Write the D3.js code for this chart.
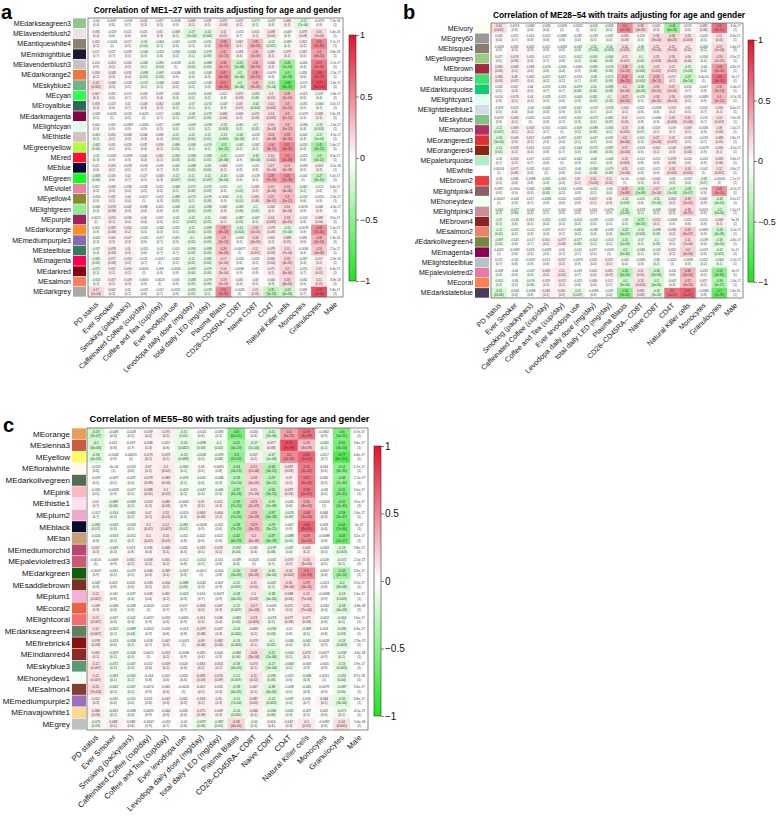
<!DOCTYPE html>
<html>
<head>
<meta charset="utf-8">
<script src="https://cdn.jsdelivr.net/npm/d3@7"></script>
<style>
  body { margin: 0; background: #fff; }
  text { font-family: "Liberation Sans", Arial, Helvetica, sans-serif; }
</style>
</head>
<body>
<svg id="fig" width="778" height="816"></svg>
<script>
// traits (columns), shared by the three panels
var traits = ["PD status", "Ever Smoker", "Smoking (packyears)", "Caffeinated Coffee (cup/day)",
  "Coffee and Tea (cup/day)", "Ever levodopa use", "Levodopa daily dose (mg/day)",
  "total daily LED (mg/day)", "Plasma Blasts", "CD28\u2013CD45RA\u2013 CD8T", "Naive CD8T", "CD4T",
  "Natural Killer cells", "Monocytes", "Granulocytes", "Male"];
var nSamples = 508;
var barTicks = [-1, -0.5, 0, 0.5, 1];

// ---- panel a : ME1-27
var modulesA = ["MEdarkseagreen3", "MElavenderblush2", "MEantiquewhite4", "MEmidnightblue", "MElavenderblush3",
  "MEdarkorange2", "MEskyblue2", "MEcyan", "MEroyalblue", "MEdarkmagenta", "MElightcyan", "MEthistle",
  "MEgreenyellow", "MEred", "MEblue", "MEgreen", "MEviolet", "MEyellow4", "MElightgreen", "MEpurple",
  "MEdarkorange", "MEmediumpurple3", "MEsteelblue", "MEmagenta", "MEdarkred", "MEsalmon", "MEdarkgrey"];
var swatchA = ["#8fc78f", "#eee0e3", "#8b8372", "#1a1a32", "#cdc1c4", "#ee7640", "#72b38c", "#30ff50",
  "#2f6a58", "#8b0042", "#e0ffe8", "#d8bfc2", "#adff40", "#ff1030", "#0a0a3c", "#12ff22", "#ee82a4",
  "#8b8b32", "#90ee90", "#a02062", "#ff8c24", "#8968b4", "#3a7a5c", "#ff0052", "#8b0012", "#fa8062", "#a9a9a9"];
var corA = [
  [-0.04, 0.0097, -0.018, 0.042, 0.027, -0.0049, 0.069, 0.029, 0.075, 0.052, -0.072, -0.037, 0.066, -0.15, -0.0073, 7.2e-18],
  [0.036, -0.023, 0.021, 0.025, 0.05, -0.068, -0.17, -0.14, 0.11, -0.015, 0.054, 0.093, -0.049, 0.079, 0.15, 5.4e-18],
  [0.052, -0.0024, 0.027, -0.09, -0.064, -0.041, -0.029, -0.051, 0.39, 0.067, 0.31, -0.12, -0.069, 0.052, 0.52, 2.7e-17],
  [0.017, 0.017, 0.033, -0.046, -0.024, -0.056, -0.064, -0.079, 0.32, 0.038, 0.26, 0.067, 0.073, 0.032, 0.4, 4.8e-18],
  [0.014, 0.053, 0.042, -0.065, -0.091, -0.0018, -0.11, -0.088, 0.36, -0.25, 0.31, 0.066, -0.45, -0.034, 0.57, -2.1e-17],
  [0.056, 0.048, 0.035, -0.098, -0.097, -0.0046, -0.05, -0.048, 0.47, -0.2, 0.36, 0.0079, -0.5, 0.026, 0.69, -1.3e-17],
  [0.14, 0.048, 0.028, -0.072, -0.068, 0.042, -0.062, -0.043, 0.51, -0.2, 0.26, -0.15, -0.68, -0.013, 0.77, -1.6e-17],
  [0.067, 0.025, 0.015, 0.028, 0.037, -0.041, -0.053, -0.062, 0.012, 0.075, -0.082, 0.1, 0.28, -0.025, -0.037, -1.8e-17],
  [0.058, 0.023, 0.02, 0.043, 0.062, -0.058, -0.07, -0.074, -0.047, 0.08, -0.14, 0.14, 0.3, -0.031, -0.064, 4.2e-17],
  [-0.029, 0.0026, 0.029, 0.0023, 0.017, -0.064, -0.08, -0.079, 0.084, 0.046, 0.076, 0.14, 0.3, -0.0075, 0.068, 5.9e-18],
  [0.004, 0.005, -0.0083, -0.0065, 0.027, -0.039, -0.049, -0.058, -0.13, -0.061, -0.1, 0.16, 0.3, -0.036, -0.13, -1.6e-17],
  [-0.061, 0.055, 0.048, 0.046, 0.039, -0.11, -0.11, -0.11, -0.13, -0.16, -0.028, 0.24, 0.35, -0.042, -0.17, -3.5e-17],
  [-0.082, 0.031, 0.028, 0.037, 0.059, -0.086, -0.068, -0.074, -0.3, -0.062, -0.062, 0.34, 0.51, -0.053, -0.42, 5.4e-17],
  [-0.05, 0.0062, 0.0099, 0.041, 0.065, -0.094, -0.086, -0.086, -0.21, -0.0057, -0.16, 0.14, 0.5, -0.013, -0.3, 6.5e-17],
  [0.021, 0.053, 0.028, 0.018, 0.018, -0.045, -0.088, -0.09, 0.069, 0.011, -0.011, 0.17, 0.24, -0.033, 0.053, -5.5e-18],
  [-0.083, 0.026, 0.02, 0.027, 0.043, -0.12, -0.11, -0.12, -0.16, -0.026, -0.029, 0.38, 0.45, -0.002, -0.27, 6.2e-17],
  [0.021, 0.049, 0.036, 0.028, 0.022, -0.068, -0.075, -0.075, -0.025, -0.1, 0.046, 0.19, 0.24, -0.061, -0.012, 6.6e-17],
  [-0.026, 0.032, 0.04, 0.0017, 0.013, -0.088, -0.072, -0.079, -0.0084, -0.11, 0.085, 0.22, 0.3, -0.024, -0.0051, -2.3e-17],
  [-0.046, 0.078, 0.042, 0.038, 0.025, -0.048, -0.11, -0.098, 0.046, -0.082, -0.1, 0.062, 0.16, 0.0074, 0.044, -4.3e-17],
  [0.0022, 0.074, 0.036, 0.04, 0.022, -0.06, -0.12, -0.11, 0.065, -0.087, -0.067, 0.14, 0.18, -0.014, 0.089, 3.5e-17],
  [0.004, 0.083, 0.054, -0.031, -0.042, -0.031, -0.11, -0.099, 0.37, -0.14, 0.19, 0.078, -0.15, -0.0079, 0.48, 5.1e-17],
  [-0.042, 0.045, 0.047, -0.025, -0.017, -0.051, -0.1, -0.098, 0.3, -0.028, 0.18, 0.052, 0.088, 0.026, 0.33, 1.3e-16],
  [-0.037, 0.078, 0.05, -0.025, -0.02, -0.015, -0.095, -0.098, 0.26, -0.00077, 0.12, 0.079, 0.15, -0.0036, 0.24, 2.5e-17],
  [-0.085, 0.077, 0.056, 0.015, -0.0017, -0.031, -0.11, -0.092, 0.17, -0.024, 0.028, 0.091, 0.18, -0.037, 0.057, -5.9e-18],
  [-0.071, 0.052, 0.056, 0.0026, -0.009, -0.0045, -0.092, -0.079, 0.16, 0.0066, 0.011, 0.071, 0.2, -0.015, 0.11, 6.3e-17],
  [-0.054, 0.057, 0.049, 0.0063, 0.0023, 0.003, -0.088, -0.079, 0.19, 0.035, 0.03, 0.044, 0.18, -0.032, 0.11, -8.8e-18],
  [0.17, 0.042, 0.02, -0.022, -0.017, 0.0052, -0.081, -0.074, 0.51, -0.0026, 0.11, -0.31, -0.24, 0.018, 0.74, 5.8e-17]
];

// ---- panel b : ME28-54
var modulesB = ["MEivory", "MEgrey60", "MEbisque4", "MEyellowgreen", "MEbrown", "MEturquoise", "MEdarkturquoise",
  "MElightcyan1", "MElightsteelblue1", "MEskyblue", "MEmaroon", "MEorangered3", "MEorangered4", "MEpaleturquoise",
  "MEwhite", "MEbrown2", "MElightpink4", "MEhoneydew", "MElightpink3", "MEbrown4", "MEsalmon2",
  "MEdarkolivegreen4", "MEmagenta4", "MElightsteelblue", "MEpalevioletred2", "MEcoral", "MEdarkslateblue"];
var swatchB = ["#fffff0", "#999999", "#8b7d6b", "#9acd82", "#a52a40", "#40e070", "#10ce70", "#e0fff0", "#d0dde2",
  "#82c484", "#b03062", "#dd3030", "#8b2512", "#aeeec2", "#ffffff", "#ee3b3b", "#8b5f66", "#f0fff0", "#cd8c96",
  "#8b2323", "#ee8264", "#6e8b3d", "#8b0052", "#b0c4ca", "#ee79a0", "#ff7f52", "#483d5c"];
var corB = [
  [0.14, 0.0074, 0.0092, -0.036, -0.0018, -0.0022, -0.056, -0.063, 0.5, 0.18, 0.042, -0.46, 0.025, 0.082, 0.6, -3.4e-17],
  [0.035, 0.015, 0.014, -0.025, -0.0085, -0.035, -0.033, -0.037, 0.084, -0.029, 0.16, 0.18, 0.13, -0.031, 0.11, 4.3e-17],
  [-0.0033, 0.033, 0.042, 0.012, -0.0093, -0.043, -0.15, -0.14, 0.14, -0.08, 0.15, 0.15, 0.1, -0.062, 0.17, 2.4e-17],
  [0.027, 0.076, 0.035, -0.017, -0.011, -0.052, -0.091, -0.094, 0.12, -0.1, 0.13, 0.16, 0.09, -0.034, 0.19, 3.1e-17],
  [0.085, 0.068, 0.038, -0.026, -0.034, -0.0061, -0.085, -0.076, 0.28, -0.14, 0.14, 0.12, -0.15, -0.04, 0.43, 4.3e-17],
  [0.086, 0.08, 0.041, -0.057, -0.057, -0.019, -0.08, -0.075, 0.42, -0.14, 0.29, 0.057, -0.27, 3.4e-05, 0.61, -3e-17],
  [0.032, 0.047, 0.04, -0.019, -0.016, -0.079, -0.11, -0.098, 0.2, -0.18, 0.19, 0.17, 0.016, -0.007, 0.31, -5.4e-17],
  [0.014, 0.073, 0.04, -0.028, -0.021, -0.044, -0.081, -0.1, 0.27, -0.029, 0.18, 0.16, 0.059, 0.0083, 0.3, -9.7e-18],
  [-0.029, 0.025, -0.04, -0.046, -0.008, -0.047, -0.019, -0.058, 0.064, 0.021, -0.0099, 0.053, 0.03, 0.016, 0.066, 6.4e-17],
  [0.0076, 0.064, 0.0025, -0.011, -0.019, -0.051, -0.073, -0.081, 0.11, 0.013, -0.0066, 0.13, 0.15, -0.015, 0.12, 7.6e-18],
  [-0.12, 0.069, 0.058, 0.016, -0.0025, -0.059, -0.088, -0.063, 0.13, -0.08, 0.029, 0.019, 0.069, 0.0036, 0.09, 1.5e-17],
  [-0.16, 0.049, 0.057, -0.0083, -0.037, -0.067, -0.047, -0.035, 0.2, -0.051, 0.17, 0.12, 0.033, -0.018, 0.088, 1.8e-17],
  [-0.11, 0.058, 0.041, -0.014, -0.02, -0.044, -0.075, -0.087, 0.17, -0.024, 0.063, 0.048, 0.091, -0.0079, 0.066, -4.5e-17],
  [-0.02, 0.054, 0.017, -0.021, -0.002, -0.042, -0.06, -0.046, 0.13, -0.012, 0.013, 0.078, 0.026, -0.003, 0.083, 3.3e-17],
  [0.00014, 0.077, 0.032, 0.002, -0.011, -0.04, -0.094, -0.079, 0.15, -0.011, 0.021, 0.14, 0.14, -0.002, 0.12, 3.4e-17],
  [-0.03, 0.036, -0.0098, -0.035, -0.035, 0.07, 0.15, 0.11, 5e-04, -0.042, 0.046, -0.05, -0.037, -0.08, -0.00065, 1.7e-17],
  [0.0097, -0.0054, 0.044, -0.088, -0.054, -0.0095, -0.052, -0.04, 0.25, -0.25, 0.17, -0.17, -0.23, 0.004, 0.45, -4.7e-17],
  [-0.00047, -0.042, 0.017, -0.0036, 0.024, 0.025, 0.057, 0.05, -0.13, -0.025, -0.15, 0.063, 0.19, 0.042, -0.18, 3.1e-17],
  [-0.062, -0.077, -0.041, -0.017, 0.006, 0.008, 0.016, 0.0076, -0.19, -0.073, -0.069, 0.049, 0.18, 0.0074, -0.2, 1.2e-17],
  [-0.07, -0.026, 0.031, -0.055, -0.032, -0.054, -0.029, -0.029, -0.03, -0.27, 0.074, -0.0069, 0.025, 0.014, 0.068, 3e-18],
  [-0.11, -0.052, -0.012, -0.037, 0.017, -0.063, -0.038, -0.039, -0.22, -0.14, -0.098, 0.058, 0.22, 0.0083, -0.24, -5.2e-17],
  [-0.087, -0.025, -0.017, 0.055, 0.077, -0.077, -0.052, -0.053, -0.21, -0.07, -0.1, 0.027, 0.15, -0.039, -0.18, -4.8e-17],
  [0.0023, -0.0092, 0.029, -0.0033, 0.02, -0.015, 0.027, 0.0018, -0.2, -0.066, -0.042, 0.052, 0.2, -0.023, -0.12, 2e-17],
  [0.015, -0.011, -0.0097, 0.013, 0.057, -0.0073, 0.035, 0.072, -0.041, -0.0091, -0.06, 0.0022, -0.0098, -0.052, -0.064, -5.2e-17],
  [-0.038, -0.04, -0.047, 0.068, 0.11, -0.019, 0.041, 0.081, -0.35, 0.11, -0.26, -0.011, 0.33, -0.032, -0.52, -3e-17],
  [-0.052, -0.03, -0.076, 0.029, 0.072, -0.022, 0.036, 0.017, -0.2, 0.13, -0.2, -0.047, 0.27, 0.027, -0.36, -1.4e-17],
  [-0.21, -0.043, -0.0098, 0.068, 0.061, -0.12, -0.0099, -0.037, -0.54, 0.095, -0.16, 0.6, 0.67, -0.0086, -0.7, 1.8e-16]
];

// ---- panel c : ME55-80
var modulesC = ["MEorange", "MEsienna3", "MEyellow", "MEfloralwhite", "MEdarkolivegreen", "MEpink", "MEthistle1",
  "MEplum2", "MEblack", "MEtan", "MEmediumorchid", "MEpalevioletred3", "MEdarkgreen", "MEsaddlebrown", "MEplum1",
  "MEcoral2", "MElightcoral", "MEdarkseagreen4", "MEfirebrick4", "MEindianred4", "MEskyblue3", "MEhoneydew1",
  "MEsalmon4", "MEmediumpurple2", "MEnavajowhite1", "MEgrey"];
var swatchC = ["#e8a052", "#d05a40", "#ffff62", "#fffaf0", "#556b52", "#ffb8c2", "#ffe0f0", "#eeaacc", "#0a0a2a",
  "#c8a072", "#b84872", "#cd5872", "#106012", "#7b3022", "#f4b0d8", "#ee6042", "#f07072", "#608062", "#8b1012",
  "#90282a", "#5a9a72", "#f0fff0", "#804032", "#9a70c2", "#ffd892", "#c0c0c0"];
var corC = [
  [-0.23, -0.048, -0.028, 0.059, 0.071, -0.11, -0.024, -0.033, -0.6, 0.024, -0.21, 0.4, 0.59, 0.0062, -0.6, 4.7e-17],
  [-0.2, 0.012, 0.019, 0.048, 0.021, -0.14, -0.098, -0.1, -0.42, -0.17, 0.077, 0.75, 0.26, -0.065, -0.61, 3.4e-17],
  [-0.18, -0.0042, 0.00055, 0.073, 0.073, -0.13, -0.058, -0.078, -0.5, 0.057, -0.17, 0.5, 0.65, -0.017, -0.77, 4.4e-17],
  [-0.023, -4e-04, -0.023, 0.07, 0.1, -0.066, 0.03, 0.0095, -0.34, 0.21, -0.34, 0.097, 0.55, 0.024, -0.51, 5.7e-17],
  [-0.029, -0.029, -0.037, 0.079, 0.083, -0.059, -0.041, -0.048, -0.28, 0.18, -0.29, 0.07, 0.57, 0.032, -0.48, -2.1e-17],
  [-0.031, -0.0059, -0.027, 0.088, 0.1, -0.059, -0.047, -0.046, -0.37, 0.15, -0.34, 0.097, 0.58, -0.03, -0.55, 5.1e-17],
  [0.02, -0.089, -0.069, 0.053, 0.085, -0.0061, 0.07, 0.051, -0.39, 0.23, -0.25, -0.026, 0.35, -0.0024, -0.55, 3.5e-17],
  [-0.017, -0.054, -0.061, 0.07, 0.11, -0.024, 0.084, 0.064, -0.39, 0.26, -0.37, -0.076, 0.48, 0.044, -0.58, 5.4e-17],
  [-0.081, -0.043, -0.033, 0.1, 0.12, -0.081, -0.0028, -0.022, -0.38, 0.29, -0.29, -0.007, 0.66, 0.023, -0.64, 2e-17],
  [-0.024, -0.053, -0.052, 0.1, 0.11, -0.011, 0.022, 0.022, -0.42, 0.2, -0.37, -0.088, 0.49, -0.0088, -0.63, 3.2e-17],
  [0.047, -0.049, 0.013, 0.036, 0.068, 0.031, 0.033, 0.059, -0.092, 0.035, -0.079, -0.037, 0.063, -0.033, -0.13, 1.8e-17],
  [0.0013, 0.0069, 0.061, 0.058, 0.055, -0.012, -0.052, -0.011, -0.039, 0.0023, -0.032, 0.073, 0.16, -0.028, -0.072, -2.5e-17],
  [-0.0047, -0.031, -0.029, 0.046, 0.069, -0.047, -0.0012, -0.014, -0.26, 0.18, -0.16, 0.14, 0.5, -0.037, -0.43, 3.3e-17],
  [-0.047, 0.013, 0.026, 0.033, 0.054, -0.088, -0.045, -0.007, -0.12, 0.11, -0.062, 0.16, 0.29, -0.013, -0.2, 3.2e-17],
  [0.12, -0.011, -0.037, 0.036, 0.061, -0.043, 0.016, 0.0029, -0.18, 0.1, -0.18, 0.088, 0.15, -0.0068, -0.13, 2.4e-17],
  [0.049, -0.048, -0.038, -0.0025, 0.017, 0.017, 0.058, 0.047, -0.12, 0.17, 0.0033, 0.071, 0.15, -0.034, -0.18, -4.8e-18],
  [0.12, -0.037, -0.042, -0.0057, 0.024, 0.0061, 0.051, 0.036, -0.083, 0.13, -0.074, 0.077, 0.077, -0.024, -0.064, 1.6e-17],
  [0.12, -0.052, -0.089, -0.0052, 0.024, -0.014, 0.079, 0.047, -0.14, 0.063, -0.094, -0.01, -0.069, 0.013, -0.095, 4.3e-17],
  [0.078, -0.024, -0.058, 0.018, 0.047, -0.0013, 0.09, 0.082, -0.13, 0.073, -0.1, -0.036, -0.061, 0.0028, -0.13, -2.9e-17],
  [0.065, -0.059, -0.043, 0.0022, 0.053, -0.0046, 0.035, 0.004, -0.084, 0.16, -0.21, -0.054, 0.073, 0.0077, -0.058, -3.6e-18],
  [0.12, -0.072, -0.047, 0.022, 0.059, 0.024, 0.063, 0.054, -0.18, 0.073, -0.17, -0.063, -0.003, -0.005, -0.13, 5.9e-17],
  [0.12, -0.069, -0.063, -0.014, 0.021, 0.024, 0.096, 0.076, -0.12, 0.11, -0.085, -0.025, -0.048, 0.0011, -0.091, 8.7e-18],
  [0.15, -0.062, -0.067, 0.0074, 0.041, -0.0024, 0.052, 0.035, -0.18, 0.067, -0.18, -0.028, -0.045, 0.0079, -0.087, 1.6e-17],
  [0.051, -0.035, -0.025, 0.021, 0.042, 0.042, 0.056, 0.05, -0.15, 0.087, -0.13, -0.037, 0.016, 0.064, -0.16, 6.8e-17],
  [0.084, -0.061, -0.038, 0.0033, 0.044, 0.026, 0.075, 0.049, -0.14, 0.066, -0.084, -0.051, -0.027, 0.022, -0.071, -4.1e-17],
  [-0.075, 0.068, 0.038, -0.0047, -0.015, -0.01, -0.097, -0.087, 0.18, -0.05, 0.024, 0.047, 0.1, -0.0092, 0.14, -5.6e-18]
];

// student p-value for a correlation (as WGCNA corPvalueStudent)
function lgamma(z) {
  var c = [0.99999999999980993, 676.5203681218851, -1259.1392167224028, 771.32342877765313,
    -176.61502916214059, 12.507343278686905, -0.13857109526572012, 9.9843695780195716e-6, 1.5056327351493116e-7];
  if (z < 0.5) return Math.log(Math.PI / Math.sin(Math.PI * z)) - lgamma(1 - z);
  z -= 1;
  var x = c[0];
  for (var i = 1; i < 9; i++) x += c[i] / (z + i);
  var t = z + 7.5;
  return 0.5 * Math.log(2 * Math.PI) + (z + 0.5) * Math.log(t) - t + Math.log(x);
}
function betacf(a, b, x) {
  var tiny = 1e-300, qab = a + b, qap = a + 1, qam = a - 1, c = 1, d = 1 - qab * x / qap;
  if (Math.abs(d) < tiny) d = tiny;
  d = 1 / d;
  var h = d;
  for (var m = 1; m <= 400; m++) {
    var m2 = 2 * m, aa = m * (b - m) * x / ((qam + m2) * (a + m2));
    d = 1 + aa * d; if (Math.abs(d) < tiny) d = tiny;
    c = 1 + aa / c; if (Math.abs(c) < tiny) c = tiny;
    d = 1 / d; h *= d * c;
    aa = -(a + m) * (qab + m) * x / ((a + m2) * (qap + m2));
    d = 1 + aa * d; if (Math.abs(d) < tiny) d = tiny;
    c = 1 + aa / c; if (Math.abs(c) < tiny) c = tiny;
    d = 1 / d;
    var del = d * c;
    h *= del;
    if (Math.abs(del - 1) < 1e-14) break;
  }
  return h;
}
function ibeta(x, a, b) {
  if (x <= 0) return 0;
  if (x >= 1) return 1;
  var lbt = lgamma(a + b) - lgamma(a) - lgamma(b) + a * Math.log(x) + b * Math.log(1 - x);
  if (x < (a + 1) / (a + b + 2)) return Math.exp(lbt) * betacf(a, b, x) / a;
  return 1 - Math.exp(lbt) * betacf(b, a, 1 - x) / b;
}
function pval(r) {
  var df = nSamples - 2;
  var t = Math.abs(r) * Math.sqrt(df) / Math.sqrt(1 - r * r);
  return ibeta(df / (df + t * t), df / 2, 0.5);
}

// R-like signif() printing
function strip(s) { return s.indexOf(".") < 0 ? s : s.replace(/0+$/, "").replace(/\.$/, ""); }
function rnum(v, digits) {
  if (v === 0) return "0";
  var s = +v.toPrecision(digits), a = Math.abs(s), neg = s < 0 ? "-" : "";
  var e = Math.floor(Math.log10(a) + 1e-12);
  var m = (a / Math.pow(10, e)).toPrecision(digits);
  if (+m >= 10) { e += 1; m = (a / Math.pow(10, e)).toPrecision(digits); }
  var sci = strip(m) + "e" + (e < 0 ? "-" : "+") + (Math.abs(e) < 10 ? "0" : "") + Math.abs(e);
  var fix = strip(a.toFixed(Math.min(100, Math.max(0, digits - 1 - e))));
  return neg + (fix.length <= sci.length ? fix : sci);
}

var svg = d3.select("#fig");
var color = d3.scaleLinear().domain([-1, 0, 1]).range(["#1fe31f", "#ffffff", "#e3122b"]);

function drawPanel(p) {
  var outer = svg.append("g");
  var g = outer.append("g");
  if (p.clipX != null) {
    svg.append("clipPath").attr("id", "clip" + p.letter)
      .append("rect").attr("x", p.clipX).attr("y", 0).attr("width", 778 - p.clipX).attr("height", 816);
    g.attr("clip-path", "url(#clip" + p.letter + ")");
  }
  var x = d3.scaleBand().domain(traits).range([p.x0, p.x1]);
  var y = d3.scaleBand().domain(p.modules).range([p.y0, p.y1]);

  outer.append("text").attr("x", p.letterX).attr("y", p.letterY)
    .attr("font-size", 20).attr("font-weight", "bold").text(p.letter);
  g.append("text").attr("x", (p.x0 + p.x1) / 2 + 2).attr("y", p.titleY)
    .attr("text-anchor", "middle").attr("font-size", p.titleSize).attr("font-weight", "bold")
    .text(p.title);

  // module colour swatches and names
  g.selectAll(".sw").data(p.modules).join("rect")
    .attr("x", p.swX).attr("y", function (d) { return y(d) + 0.3; })
    .attr("width", p.swW).attr("height", y.bandwidth() - 0.6)
    .attr("fill", function (d, i) { return p.swatches[i]; });
  g.selectAll(".rl").data(p.modules).join("text")
    .attr("x", p.swX - 2).attr("y", function (d) { return y(d) + y.bandwidth() / 2; })
    .attr("dy", "0.35em").attr("text-anchor", "end").attr("font-size", p.labelSize)
    .attr("fill", "#111").text(function (d) { return d; });

  // heatmap cells
  var cells = [];
  p.cor.forEach(function (row, i) {
    row.forEach(function (r, j) { cells.push({ m: p.modules[i], t: traits[j], r: r }); });
  });
  g.selectAll(".cell").data(cells).join("rect")
    .attr("x", function (d) { return x(d.t); }).attr("y", function (d) { return y(d.m); })
    .attr("width", x.bandwidth() + 0.2).attr("height", y.bandwidth() + 0.2)
    .attr("fill", function (d) { return color(d.r); });
  var txt = g.selectAll(".ct").data(cells).join("text")
    .attr("y", function (d) { return y(d.m) + y.bandwidth() / 2; })
    .attr("text-anchor", "middle").attr("font-size", p.cellFont).attr("fill", "#333");
  txt.append("tspan").attr("x", function (d) { return x(d.t) + x.bandwidth() / 2; })
    .attr("dy", "-0.3em").text(function (d) { return rnum(d.r, 2); });
  txt.append("tspan").attr("x", function (d) { return x(d.t) + x.bandwidth() / 2; })
    .attr("dy", "1.3em").text(function (d) { return "(" + rnum(pval(d.r), 1) + ")"; });
  g.append("rect").attr("x", p.x0).attr("y", p.y0)
    .attr("width", p.x1 - p.x0).attr("height", p.y1 - p.y0)
    .attr("fill", "none").attr("stroke", "#555").attr("stroke-width", 0.7);

  // trait names
  g.selectAll(".cl").data(traits).join("text")
    .attr("transform", function (d) {
      return "translate(" + (x(d) + x.bandwidth() / 2 + 1) + "," + (p.y1 + 6) + ") rotate(-45)";
    })
    .attr("text-anchor", "end").attr("dy", "0.35em").attr("font-size", p.colSize)
    .attr("fill", "#111").text(function (d) { return d; });

  // colour bar
  var gid = "grad" + p.letter;
  var grad = svg.append("defs").append("linearGradient").attr("id", gid)
    .attr("x1", 0).attr("y1", 1).attr("x2", 0).attr("y2", 0);
  d3.range(0, 1.0001, 0.05).forEach(function (f) {
    grad.append("stop").attr("offset", f).attr("stop-color", color(f * 2 - 1));
  });
  var yb = d3.scaleLinear().domain([-1, 1]).range([p.barY1, p.barY0]);
  g.append("rect").attr("x", p.barX).attr("y", p.barY0)
    .attr("width", p.barW).attr("height", p.barY1 - p.barY0)
    .attr("fill", "url(#" + gid + ")").attr("stroke", "#333").attr("stroke-width", 0.6);
  var ax = g.append("g").attr("transform", "translate(" + (p.barX + p.barW) + ",0)")
    .call(d3.axisRight(yb).tickValues(barTicks).tickSize(3).tickPadding(1)
      .tickFormat(function (v) { return v < 0 ? "\u2212" + Math.abs(v) : String(v); }));
  ax.select(".domain").remove();
  ax.selectAll("line").attr("stroke", "#333").attr("stroke-width", 0.6);
  ax.selectAll("text").attr("font-size", p.barFont).attr("font-family", "Liberation Sans, Arial, sans-serif")
    .attr("fill", "#111");
}

drawPanel({
  letter: "a", letterX: 1, letterY: 18.5, title: "Correlation of ME1\u201327 with traits adjusting for age and gender",
  titleY: 13, titleSize: 8.4, modules: modulesA, swatches: swatchA, cor: corA,
  x0: 88, x1: 343, y0: 18, y1: 297, swX: 73, swW: 13, labelSize: 7, colSize: 7.2, cellFont: 3.0,
  barX: 349, barW: 7, barY0: 35, barY1: 281, barFont: 9
});
drawPanel({
  letter: "b", letterX: 403, letterY: 18.5, clipX: 415, title: "Correlation of ME28\u201354 with traits adjusting for age and gender",
  titleY: 18, titleSize: 8.4, modules: modulesB, swatches: swatchB, cor: corB,
  x0: 491, x1: 743, y0: 23, y1: 298, swX: 475, swW: 14, labelSize: 7, colSize: 7.2, cellFont: 3.0,
  barX: 748, barW: 6, barY0: 40, barY1: 282, barFont: 9
});
drawPanel({
  letter: "c", letterX: 3, letterY: 432, title: "Correlation of ME55\u201380 with traits adjusting for age and gender",
  titleY: 422, titleSize: 9.3, modules: modulesC, swatches: swatchC, cor: corC,
  x0: 87, x1: 368, y0: 428, y1: 730, swX: 72, swW: 14, labelSize: 8, colSize: 7.8, cellFont: 3.3,
  barX: 374, barW: 7, barY0: 446, barY1: 716, barFont: 10
});
</script>
</body>
</html>
